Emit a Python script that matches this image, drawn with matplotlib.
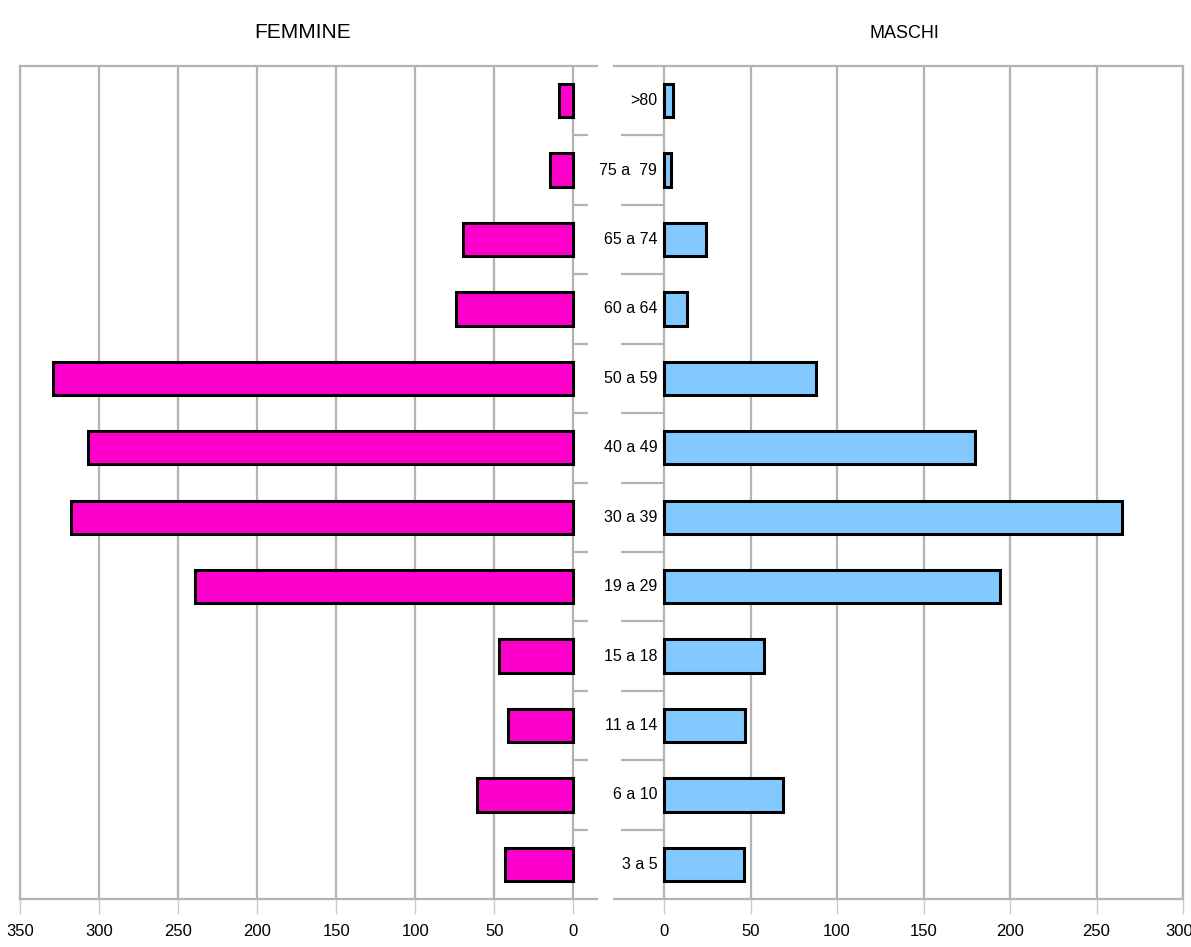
import matplotlib.pyplot as plt
import numpy as np

plt.rcParams['font.family'] = ['Liberation Sans', 'DejaVu Sans']

# fasce d'eta' dal basso verso l'alto
eta = ['3 a 5', '6 a 10', '11 a 14', '15 a 18', '19 a 29', '30 a 39',
       '40 a 49', '50 a 59', '60 a 64', '65 a 74', '75 a  79', '>80']
femmine = [43, 61, 41, 47, 239, 318, 307, 329, 74, 70, 15, 9]
maschi = [46, 69, 47, 58, 194, 265, 180, 88, 13, 24, 4, 5]

tick_f = [350, 300, 250, 200, 150, 100, 50, 0]
tick_m = [0, 50, 100, 150, 200, 250, 300]

grigio = '#b3b3b3'
W, H = 1191, 947
fig = plt.figure(figsize=(W / 100, H / 100), dpi=100)
ax1 = fig.add_axes([20 / W, 48 / H, 577 / W, 833 / H])
ax2 = fig.add_axes([614 / W, 48 / H, 569 / W, 833 / H])

y = np.arange(len(eta))

ax1.barh(y, femmine, height=0.48, color='#ff00cc', edgecolor='black', linewidth=2.2, zorder=3)
ax2.barh(y, maschi, height=0.48, color='#82c9ff', edgecolor='black', linewidth=2.2, zorder=3)

ax1.set_xlim(350, -15)
ax2.set_xlim(-29, 300)
ax1.set_xticks(tick_f)
ax2.set_xticks(tick_m)
# l'ultima etichetta (300) sta sul bordo: la sposto un poco a sinistra
ax2.set_xticklabels([str(t) for t in tick_m[:-1]] + [''])
ax2.annotate(str(tick_m[-1]), xy=(tick_m[-1], 0), xycoords=('data', 'axes fraction'),
             xytext=(-3, -18), textcoords='offset points', ha='center', va='top', fontsize=12)

for ax in (ax1, ax2):
    ax.set_ylim(-0.5, len(eta) - 0.5)
    ax.set_yticks([])
    ax.grid(axis='x', color=grigio, linewidth=1.6, zorder=0)
    ax.tick_params(axis='x', length=11, width=1, color='#cccccc', pad=7, labelsize=12)
    for s in ('top', 'bottom'):
        ax.spines[s].set_color(grigio)
        ax.spines[s].set_linewidth(1.6)

ax1.spines['right'].set_visible(False)
ax1.spines['left'].set_color(grigio)
ax1.spines['left'].set_linewidth(1.6)
ax2.spines['left'].set_visible(False)
ax2.spines['right'].set_color(grigio)
ax2.spines['right'].set_linewidth(1.6)

# separatori tra le fasce
sep = y[:-1] + 0.5
ax1.hlines(sep, 0, -9.5, color=grigio, linewidth=1.6, zorder=1)
ax2.hlines(sep, -25, 0, color=grigio, linewidth=1.6, zorder=1)

for i, lab in enumerate(eta):
    ax2.text(-4, i, lab, ha='right', va='center', fontsize=11.5)

fig.text(303 / W, 1 - 33 / H, 'FEMMINE', ha='center', va='center', fontsize=15)
fig.text(904 / W, 1 - 33 / H, 'MASCHI', ha='center', va='center', fontsize=13)

fig.savefig('out.png', dpi=100)
